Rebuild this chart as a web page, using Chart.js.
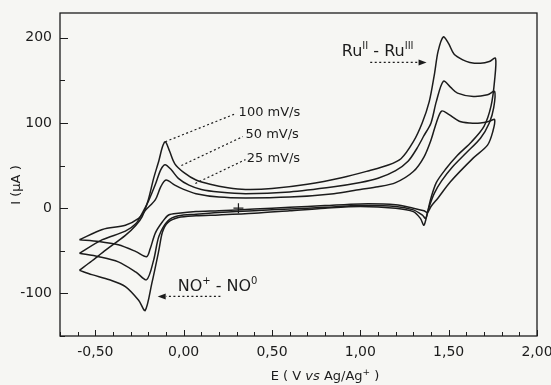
<!DOCTYPE html>
<html>
<head>
<meta charset="utf-8">
<script src="https://cdn.jsdelivr.net/npm/chart.js@4.4.1/dist/chart.umd.min.js"></script>
<style>
  html, body { margin: 0; padding: 0; background: #f6f6f3; }
  #wrap { width: 551px; height: 385px; }
</style>
</head>
<body>
<div id="wrap"><canvas id="cv"></canvas></div>
<script>
// Potentiel E (V) et courant I (µA), boucle complete aller + retour
const cv100E = [-0.59, -0.52, -0.44, -0.33, -0.27, -0.235, -0.2, -0.17, -0.14, -0.12, -0.104, -0.08, -0.05, 0.0, 0.07, 0.15, 0.25, 0.35, 0.5, 0.7, 0.9, 1.05, 1.15, 1.23, 1.30, 1.35, 1.39, 1.42, 1.44, 1.47, 1.50, 1.53, 1.58, 1.62, 1.68, 1.73, 1.765,
                1.76, 1.74, 1.70, 1.63, 1.55, 1.48, 1.43, 1.40, 1.38, 1.36, 1.34, 1.30, 1.2, 1.0, 0.8, 0.6, 0.4, 0.2, 0.07, -0.03, -0.09, -0.12, -0.14, -0.18, -0.218, -0.255, -0.33, -0.42, -0.52, -0.59];
const cv100I = [-73, -62, -49, -32, -20, -10, 10, 35, 56, 72, 78, 67, 52, 42, 33, 28, 24, 22, 23, 28, 36, 44, 50, 58, 78, 100, 125, 158, 184, 201, 193, 181, 174, 171, 170, 172, 176,
                150, 120, 96, 78, 62, 45, 30, 12, -5, -20, -12, -4, 0, 2, 0, -3, -6, -8, -9, -11, -17, -28, -49, -88, -120, -108, -92, -84, -78, -73];

const cv50E = [-0.59, -0.46, -0.33, -0.27, -0.235, -0.2, -0.16, -0.13, -0.105, -0.07, -0.03, 0.03, 0.1, 0.2, 0.35, 0.6, 0.85, 1.0, 1.1, 1.2, 1.27, 1.32, 1.36, 1.40, 1.43, 1.47, 1.51, 1.55, 1.64, 1.72, 1.76,
               1.755, 1.73, 1.68, 1.60, 1.52, 1.46, 1.42, 1.39, 1.37, 1.35, 1.30, 1.2, 1.0, 0.8, 0.6, 0.4, 0.2, 0.07, -0.03, -0.09, -0.14, -0.17, -0.21, -0.27, -0.37, -0.48, -0.59];
const cv50I = [-53, -37, -27, -18, -6, 8, 28, 45, 51, 45, 35, 27, 22, 19, 17, 19, 25, 30, 35, 44, 55, 70, 85, 100, 125, 149, 142, 135, 131, 133, 137,
               118, 100, 82, 65, 48, 32, 18, 2, -12, -8, -2, 2, 3, 1, -1, -3, -5, -7, -9, -15, -33, -61, -84, -75, -63, -57, -53];

const cv25E = [-0.59, -0.46, -0.33, -0.255, -0.214, -0.16, -0.13, -0.10, -0.05, 0.0, 0.07, 0.2, 0.35, 0.6, 0.85, 1.0, 1.1, 1.2, 1.3, 1.36, 1.40, 1.43, 1.46, 1.50, 1.56, 1.62, 1.68, 1.73, 1.76,
               1.75, 1.72, 1.64, 1.51, 1.44, 1.40, 1.38, 1.36, 1.30, 1.2, 1.0, 0.8, 0.6, 0.4, 0.2, 0.07, -0.03, -0.085, -0.12, -0.16, -0.19, -0.21, -0.27, -0.37, -0.48, -0.59];
const cv25I = [-37, -25, -20, -12, -2, 10, 25, 33, 27, 22, 17, 13, 12, 13, 17, 22, 25, 30, 43, 60, 80, 100, 114, 110, 102, 100, 100, 102, 104,
               90, 74, 59, 31, 12, 2, -5, -3, 0, 4, 5, 3, 1, -1, -3, -4, -6, -8, -16, -29, -48, -57, -51, -43, -39, -37];

const scanRates = ['100 mV/s', '50 mV/s', '25 mV/s'];
const xTicks = [-0.5, 0, 0.5, 1, 1.5, 2];
const yTicks = [-100, 0, 100, 200];

const ink = '#1c1c1c';
const toPts = (es, is) => es.map((e, k) => ({ x: e, y: is[k] }));

// Cadre, graduations vers l'interieur et annotations
const decorPlugin = {
    id: 'decor',
    afterDatasetsDraw(chart) {
        const { ctx, chartArea: a } = chart;
        const sx = chart.scales.x, sy = chart.scales.y;
        const P = (e, i) => [sx.getPixelForValue(e), sy.getPixelForValue(i)];

        ctx.save();
        ctx.strokeStyle = ink;
        ctx.fillStyle = ink;
        ctx.lineWidth = 1.3;
        ctx.strokeRect(a.left, a.top, a.right - a.left, a.bottom - a.top);

        // graduations x (majeures 0.5, mineures 0.1)
        ctx.lineWidth = 1;
        for (let k = -7; k <= 20; k++) {
            const px = Math.round(sx.getPixelForValue(k / 10)) + 0.5;
            const len = (k % 5 === 0) ? 6 : 4;
            ctx.beginPath();
            ctx.moveTo(px, a.bottom);
            ctx.lineTo(px, a.bottom - len);
            ctx.stroke();
        }
        // graduations y (majeures 100, mineures 50)
        for (let k = -3; k <= 4; k++) {
            const py = Math.round(sy.getPixelForValue(k * 50)) + 0.5;
            const len = (k % 2 === 0) ? 8 : 5;
            ctx.beginPath();
            ctx.moveTo(a.left, py);
            ctx.lineTo(a.left + len, py);
            ctx.stroke();
        }

        // lignes pointillees vers les pics
        const dotted = (e1, i1, e2, i2) => {
            const [x1, y1] = P(e1, i1), [x2, y2] = P(e2, i2);
            ctx.save();
            ctx.setLineDash([2, 2.5]);
            ctx.lineWidth = 1.2;
            ctx.beginPath();
            ctx.moveTo(x1, y1);
            ctx.lineTo(x2, y2);
            ctx.stroke();
            ctx.restore();
        };
        const arrowHead = (x, y, dir) => {
            ctx.beginPath();
            ctx.moveTo(x, y);
            ctx.lineTo(x - dir * 8, y - 3);
            ctx.lineTo(x - dir * 8, y + 3);
            ctx.closePath();
            ctx.fill();
        };

        dotted(-0.104, 78, 0.296, 111);
        dotted(-0.013, 50, 0.335, 84);
        dotted(0.066, 29, 0.35, 57);

        ctx.font = '13px "DejaVu Sans"';
        ctx.textBaseline = 'middle';
        ctx.textAlign = 'left';
        const lblPos = [[0.311, 112], [0.35, 86], [0.357, 58]];
        scanRates.forEach((t, k) => {
            const [x, y] = P(lblPos[k][0], lblPos[k][1]);
            ctx.fillText(t, x, y);
        });

        // texte avec exposants
        const richText = (parts, x, y, size) => {
            let cx = x;
            parts.forEach(([t, sup]) => {
                ctx.font = (sup ? Math.round(size * 0.65) : size) + 'px "DejaVu Sans"';
                ctx.fillText(t, cx, sup ? y - size * 0.35 : y);
                cx += ctx.measureText(t).width;
            });
        };

        // Ru(II) - Ru(III)
        let [rx, ry] = P(0.895, 183);
        richText([['Ru', 0], ['II', 1], [' - Ru', 0], ['III', 1]], rx, ry, 16);
        dotted(1.056, 171, 1.33, 171);
        arrowHead(P(1.375, 171)[0], P(1.375, 171)[1], 1);

        // NO+ - NO0
        [rx, ry] = P(-0.034, -92);
        richText([['NO', 0], ['+', 1], [' - NO', 0], ['0', 1]], rx, ry, 16);
        dotted(0.208, -103.6, -0.10, -103.6);
        arrowHead(P(-0.147, -103.6)[0], P(-0.147, -103.6)[1], -1);

        // marqueur de depart
        const [mx, my] = P(0.31, 0);
        ctx.lineWidth = 1.2;
        ctx.beginPath();
        ctx.moveTo(mx - 5, my); ctx.lineTo(mx + 5, my);
        ctx.moveTo(mx, my - 5); ctx.lineTo(mx, my + 5);
        ctx.stroke();

        // titres des axes
        ctx.textBaseline = 'middle';
        const parts = [['E ( V ', 'n'], ['vs', 'i'], [' Ag/Ag', 'n'], ['+', 's'], [' )', 'n']];
        const setF = (s) => {
            ctx.font = (s === 'i' ? 'italic ' : '') + (s === 's' ? '9px' : '13px') + ' "DejaVu Sans"';
        };
        let w = 0;
        parts.forEach(([t, s]) => { setF(s); w += ctx.measureText(t).width; });
        let cx = 325 - w / 2;
        parts.forEach(([t, s]) => {
            setF(s);
            ctx.fillText(t, cx, s === 's' ? 373 : 377);
            cx += ctx.measureText(t).width;
        });

        ctx.translate(17, 185);
        ctx.rotate(-Math.PI / 2);
        ctx.textAlign = 'center';
        ctx.font = '13px "DejaVu Sans"';
        ctx.fillText('I (µA )', 0, 0);
        ctx.restore();
    }
};

const lineStyle = {
    showLine: true,
    pointRadius: 0,
    borderColor: ink,
    borderWidth: 1.5,
    tension: 0.3,
    fill: false
};

const noPad = (s) => {
    s.paddingLeft = 0; s.paddingRight = 0;
    s.paddingTop = 0; s.paddingBottom = 0;
};

new Chart(document.getElementById('cv'), {
    type: 'scatter',
    data: {
        datasets: [
            { label: scanRates[0], data: toPts(cv100E, cv100I), ...lineStyle },
            { label: scanRates[1], data: toPts(cv50E, cv50I), ...lineStyle },
            { label: scanRates[2], data: toPts(cv25E, cv25I), ...lineStyle }
        ]
    },
    options: {
        responsive: true,
        maintainAspectRatio: false,
        animation: false,
        layout: { padding: { top: 13, right: 14, left: 0, bottom: 0 } },
        plugins: {
            legend: { display: false },
            tooltip: { enabled: false }
        },
        scales: {
            x: {
                type: 'linear',
                min: -0.70,
                max: 2.00,
                grid: { display: false, drawTicks: false },
                border: { display: false },
                afterBuildTicks: (s) => { s.ticks = xTicks.map(v => ({ value: v })); },
                afterFit: (s) => { s.height = 49; noPad(s); },
                ticks: {
                    padding: 8,
                    color: ink,
                    font: { family: 'DejaVu Sans', size: 14 },
                    callback: (v) => v.toFixed(2).replace('.', ',')
                }
            },
            y: {
                type: 'linear',
                min: -150,
                max: 229,
                grid: { display: false, drawTicks: false },
                border: { display: false },
                afterBuildTicks: (s) => { s.ticks = yTicks.map(v => ({ value: v })); },
                afterFit: (s) => { s.width = 60; noPad(s); },
                ticks: {
                    padding: 8,
                    color: ink,
                    font: { family: 'DejaVu Sans', size: 14 },
                    callback: (v) => String(v)
                }
            }
        }
    },
    plugins: [decorPlugin]
});
</script>
</body>
</html>
